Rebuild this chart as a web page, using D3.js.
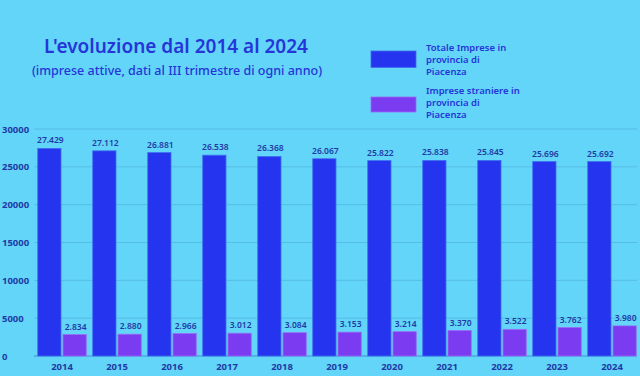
<!DOCTYPE html>
<html>
<head>
<meta charset="utf-8">
<script src="https://cdn.jsdelivr.net/npm/d3@7"></script>
<style>
  html, body { margin: 0; padding: 0; background: #63d5f8; }
  svg { display: block; }
  text { font-family: "Noto Sans", sans-serif; }
</style>
</head>
<body>
<div id="chart"></div>
<script>
const width = 640;
const height = 376;

const years = ["2014", "2015", "2016", "2017", "2018", "2019", "2020", "2021", "2022", "2023", "2024"];
const totale = [27429, 27112, 26881, 26538, 26368, 26067, 25822, 25838, 25845, 25696, 25692];
const straniere = [2834, 2880, 2966, 3012, 3084, 3153, 3214, 3370, 3522, 3762, 3980];
const seriesNames = ["Totale Imprese in provincia di Piacenza", "Imprese straniere in provincia di Piacenza"];
const yTicks = [0, 5000, 10000, 15000, 20000, 25000, 30000];

const colors = ["#2534ee", "#7b3bf0"];
const textColor = "#1f3aa6";

const svg = d3.select("#chart")
  .append("svg")
  .attr("width", width)
  .attr("height", height);

svg.append("rect").attr("width", width).attr("height", height).attr("fill", "#63d5f8");

const x = d3.scaleBand()
  .domain(years)
  .range([34.5, 639.5])
  .paddingInner(0.118)
  .paddingOuter(0.059);

const xs = d3.scaleBand()
  .domain([0, 1])
  .range([0, x.bandwidth()])
  .paddingInner(0.08);

const y = d3.scaleLinear()
  .domain([0, 30000])
  .range([356, 129]);

// gridlines
svg.append("g")
  .selectAll("line")
  .data(yTicks)
  .join("line")
  .attr("x1", 34)
  .attr("x2", 637)
  .attr("y1", d => y(d))
  .attr("y2", d => y(d))
  .attr("stroke", d => d === 0 ? "#3f8fd8" : "#55bde6")
  .attr("stroke-width", 1);

// y tick labels
svg.append("g")
  .selectAll("text")
  .data(yTicks)
  .join("text")
  .attr("x", 2)
  .attr("y", d => y(d) + 3.5)
  .attr("font-size", 9.5)
  .attr("font-weight", 700)
  .attr("fill", textColor)
  .text(d => d);

const data = years.map((yr, i) => ({ year: yr, values: [totale[i], straniere[i]] }));

const groups = svg.append("g")
  .selectAll("g")
  .data(data)
  .join("g")
  .attr("transform", d => `translate(${x(d.year)},0)`);

groups.selectAll("rect")
  .data(d => d.values.map((v, k) => ({ k, v })))
  .join("rect")
  .attr("x", d => xs(d.k))
  .attr("y", d => y(d.v))
  .attr("width", xs.bandwidth())
  .attr("height", d => y(0) - y(d.v))
  .attr("fill", d => colors[d.k])
  .attr("stroke", d => d.k === 0 ? "#3d6ef0" : "#9a6cf4")
  .attr("stroke-width", 0.8);

const fmt = v => d3.format(",")(v).replace(",", ".");

groups.selectAll("text.val")
  .data(d => d.values.map((v, k) => ({ k, v })))
  .join("text")
  .attr("class", "val")
  .attr("x", d => xs(d.k) + xs.bandwidth() / 2 + 1)
  .attr("y", d => y(d.v) - 5)
  .attr("text-anchor", "middle")
  .attr("font-size", 8.5)
  .attr("font-weight", 600)
  .attr("fill", textColor)
  .text(d => fmt(d.v));

// x labels
svg.append("g")
  .selectAll("text")
  .data(years)
  .join("text")
  .attr("x", d => x(d) + x.bandwidth() / 2)
  .attr("y", 369.5)
  .attr("text-anchor", "middle")
  .attr("font-size", 9.5)
  .attr("font-weight", 700)
  .attr("fill", textColor)
  .text(d => d);

// title
svg.append("text")
  .attr("x", 176)
  .attr("y", 53)
  .attr("text-anchor", "middle")
  .attr("font-size", 19)
  .attr("font-weight", 600)
  .attr("fill", "#2535d8")
  .text("L'evoluzione dal 2014 al 2024");

svg.append("text")
  .attr("x", 177)
  .attr("y", 75)
  .attr("text-anchor", "middle")
  .attr("font-size", 12.5)
  .attr("font-weight", 500)
  .attr("fill", "#2535d8")
  .text("(imprese attive, dati al III trimestre di ogni anno)");

// legend
const legendY = [51, 97];
const legendLines = [
  ["Totale Imprese in", "provincia di", "Piacenza"],
  ["Imprese straniere in", "provincia di", "Piacenza"]
];
const legend = svg.append("g")
  .selectAll("g")
  .data(seriesNames)
  .join("g")
  .attr("transform", (d, i) => `translate(371,${legendY[i]})`);

legend.append("rect")
  .attr("width", 45)
  .attr("height", (d, i) => i === 0 ? 16.5 : 15)
  .attr("fill", (d, i) => colors[i])
  .attr("stroke", (d, i) => i === 0 ? "#3d6ef0" : "#9a6cf4")
  .attr("stroke-width", 0.8);

legend.append("text")
  .attr("x", 55)
  .attr("y", (d, i) => i === 0 ? -0.5 : -3.5)
  .attr("font-size", 9.5)
  .attr("font-weight", 600)
  .attr("fill", "#2535d8")
  .selectAll("tspan")
  .data((d, i) => legendLines[i])
  .join("tspan")
  .attr("x", 55)
  .attr("dy", (d, j) => j === 0 ? 0 : 12.3)
  .text(d => d);
</script>
</body>
</html>
